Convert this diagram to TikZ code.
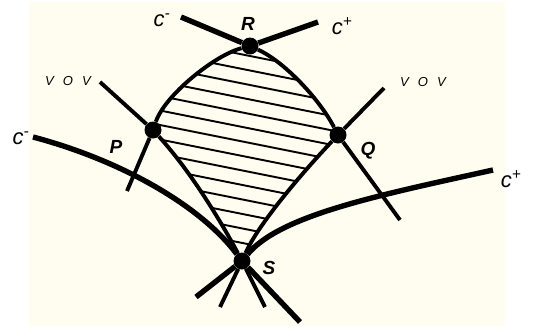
\documentclass[tikz,border=0pt]{standalone}
\usepackage{fontspec}
\newfontfamily\lblfont{Liberation Sans}
\definecolor{paper}{HTML}{FFFDF0}
\tikzset{
  dot/.style={circle,fill=black,inner sep=0pt,minimum size=17pt},
  cline/.style={line width=5.4pt},
  arcline/.style={line width=3.9pt},
  hatchline/.style={line width=1.9pt},
  clbl/.style={font=\lblfont\itshape\fontsize{22}{22}\selectfont},
  ptlbl/.style={font=\lblfont\bfseries\itshape\fontsize{19}{19}\selectfont},
  vlbl/.style={font=\lblfont\itshape\fontsize{13}{13}\selectfont}
}
\newcommand{\vov}{V\hspace{0.7em}O\hspace{0.7em}V}

\begin{document}
\begin{tikzpicture}[x=1pt,y=-1pt]
  \useasboundingbox (0,0) rectangle (533,327);
  \fill[paper] (29,2) rectangle (505,326);

  \node[dot] (R) at (250,46) {};
  \node[dot] (P) at (153,130) {};
  \node[dot] (Q) at (338,135) {};
  \node[dot] (S) at (242,261) {};

  \coordinate (rm) at (181,17);
  \coordinate (rp) at (318,22);
  \coordinate (pv) at (100,82);
  \coordinate (pd) at (127,191);
  \coordinate (qv) at (384,88);
  \coordinate (qd) at (400,220);
  \coordinate (lm) at (33,137);
  \coordinate (lp) at (493,170);
  \coordinate (s1) at (196,297);
  \coordinate (s2) at (220,307);
  \coordinate (s3) at (265,307);
  \coordinate (s4) at (300,322);

  \begin{scope}
    \clip (R.center) .. controls (215,55) and (165,95) .. (P.center)
      .. controls (193,174) and (224,227) .. (S.center)
      .. controls (258,225) and (300,175) .. (Q.center)
      .. controls (320,100) and (285,62) .. (R.center);
    \foreach \k in {0,...,13}
      \draw[hatchline] (140,34+14.5*\k) -- (350,76+14.5*\k);
  \end{scope}

  \draw[arcline] (R) .. controls (215,55) and (165,95) .. (P);
  \draw[arcline] (R) .. controls (285,62) and (320,100) .. (Q);
  \draw[arcline] (P) .. controls (193,174) and (224,227) .. (S);
  \draw[arcline] (Q) .. controls (300,175) and (258,225) .. (S);

  \draw[cline] (rm) -- (R);
  \draw[cline] (rp) -- (R);
  \draw[arcline] (pv) -- (P);
  \draw[arcline] (P) -- (pd);
  \draw[arcline] (qv) -- (Q);
  \draw[arcline] (Q) -- (qd);
  \draw[cline] (lm) .. controls (120,160) and (200,205) .. (S);
  \draw[cline] (lp) .. controls (380,195) and (280,215) .. (S);
  \draw[cline] (S) -- (s1);
  \draw[arcline] (S) -- (s2);
  \draw[arcline] (S) -- (s3);
  \draw[cline] (S) -- (s4);

  \node[ptlbl] (lR) at (248,24) {R};
  \node[ptlbl] (lP) at (116,147) {P};
  \node[ptlbl] (lQ) at (368,151) {Q};
  \node[ptlbl] (lS) at (269,268) {S};
  \node[clbl] (c1) at (162,20) {c\textsuperscript{-}};
  \node[clbl] (c2) at (342,26) {c\textsuperscript{+}};
  \node[clbl] (c3) at (21,138) {c\textsuperscript{-}};
  \node[clbl] (c4) at (511,179) {c\textsuperscript{+}};
  \node[vlbl] (v1) at (68,81) {\vov};
  \node[vlbl] (v2) at (423,82) {\vov};
\end{tikzpicture}
\end{document}
